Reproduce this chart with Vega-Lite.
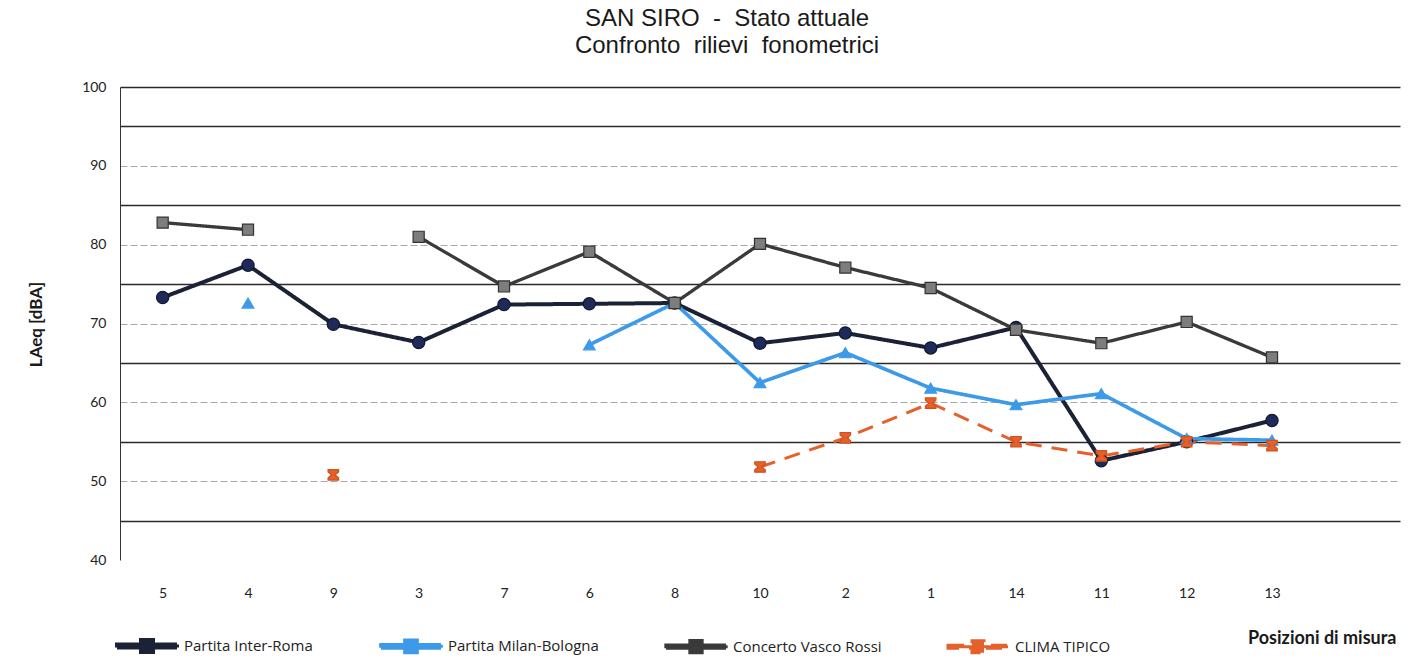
{
  "$schema": "https://vega.github.io/schema/vega-lite/v6.json",
  "width": 1280,
  "height": 473,
  "autosize": {"type": "none"},
  "padding": {"left": 120, "top": 87, "right": 24, "bottom": 102},
  "background": "white",
  "title": {
    "text": ["SAN SIRO\u00a0 - \u00a0Stato attuale", "Confronto\u00a0 rilievi\u00a0 fonometrici"],
    "font": "Liberation Sans",
    "fontSize": 24,
    "fontWeight": "normal",
    "color": "#1a1a1a",
    "lineHeight": 27,
    "anchor": "middle",
    "dx": -33,
    "offset": 22
  },
  "config": {"view": {"stroke": null}},
  "data": {
    "values": [
      {"pos": "5", "serie": "Partita Inter-Roma", "LAeq": 73.3},
      {"pos": "4", "serie": "Partita Inter-Roma", "LAeq": 77.4},
      {"pos": "9", "serie": "Partita Inter-Roma", "LAeq": 69.9},
      {"pos": "3", "serie": "Partita Inter-Roma", "LAeq": 67.6},
      {"pos": "7", "serie": "Partita Inter-Roma", "LAeq": 72.4},
      {"pos": "6", "serie": "Partita Inter-Roma", "LAeq": 72.5},
      {"pos": "8", "serie": "Partita Inter-Roma", "LAeq": 72.6},
      {"pos": "10", "serie": "Partita Inter-Roma", "LAeq": 67.5},
      {"pos": "2", "serie": "Partita Inter-Roma", "LAeq": 68.8},
      {"pos": "1", "serie": "Partita Inter-Roma", "LAeq": 66.9},
      {"pos": "14", "serie": "Partita Inter-Roma", "LAeq": 69.5},
      {"pos": "11", "serie": "Partita Inter-Roma", "LAeq": 52.6},
      {"pos": "12", "serie": "Partita Inter-Roma", "LAeq": 55.0},
      {"pos": "13", "serie": "Partita Inter-Roma", "LAeq": 57.7},

      {"pos": "5", "serie": "Partita Milan-Bologna", "LAeq": null},
      {"pos": "4", "serie": "Partita Milan-Bologna", "LAeq": 72.6},
      {"pos": "9", "serie": "Partita Milan-Bologna", "LAeq": null},
      {"pos": "3", "serie": "Partita Milan-Bologna", "LAeq": null},
      {"pos": "7", "serie": "Partita Milan-Bologna", "LAeq": null},
      {"pos": "6", "serie": "Partita Milan-Bologna", "LAeq": 67.3},
      {"pos": "8", "serie": "Partita Milan-Bologna", "LAeq": 72.6},
      {"pos": "10", "serie": "Partita Milan-Bologna", "LAeq": 62.5},
      {"pos": "2", "serie": "Partita Milan-Bologna", "LAeq": 66.3},
      {"pos": "1", "serie": "Partita Milan-Bologna", "LAeq": 61.8},
      {"pos": "14", "serie": "Partita Milan-Bologna", "LAeq": 59.7},
      {"pos": "11", "serie": "Partita Milan-Bologna", "LAeq": 61.1},
      {"pos": "12", "serie": "Partita Milan-Bologna", "LAeq": 55.4},
      {"pos": "13", "serie": "Partita Milan-Bologna", "LAeq": 55.2},

      {"pos": "5", "serie": "Concerto Vasco Rossi", "LAeq": 82.8},
      {"pos": "4", "serie": "Concerto Vasco Rossi", "LAeq": 81.9},
      {"pos": "9", "serie": "Concerto Vasco Rossi", "LAeq": null},
      {"pos": "3", "serie": "Concerto Vasco Rossi", "LAeq": 81.0},
      {"pos": "7", "serie": "Concerto Vasco Rossi", "LAeq": 74.7},
      {"pos": "6", "serie": "Concerto Vasco Rossi", "LAeq": 79.1},
      {"pos": "8", "serie": "Concerto Vasco Rossi", "LAeq": 72.6},
      {"pos": "10", "serie": "Concerto Vasco Rossi", "LAeq": 80.1},
      {"pos": "2", "serie": "Concerto Vasco Rossi", "LAeq": 77.1},
      {"pos": "1", "serie": "Concerto Vasco Rossi", "LAeq": 74.5},
      {"pos": "14", "serie": "Concerto Vasco Rossi", "LAeq": 69.2},
      {"pos": "11", "serie": "Concerto Vasco Rossi", "LAeq": 67.5},
      {"pos": "12", "serie": "Concerto Vasco Rossi", "LAeq": 70.2},
      {"pos": "13", "serie": "Concerto Vasco Rossi", "LAeq": 65.7},

      {"pos": "5", "serie": "CLIMA TIPICO", "LAeq": null},
      {"pos": "4", "serie": "CLIMA TIPICO", "LAeq": null},
      {"pos": "9", "serie": "CLIMA TIPICO", "LAeq": 50.8},
      {"pos": "3", "serie": "CLIMA TIPICO", "LAeq": null},
      {"pos": "7", "serie": "CLIMA TIPICO", "LAeq": null},
      {"pos": "6", "serie": "CLIMA TIPICO", "LAeq": null},
      {"pos": "8", "serie": "CLIMA TIPICO", "LAeq": null},
      {"pos": "10", "serie": "CLIMA TIPICO", "LAeq": 51.8},
      {"pos": "2", "serie": "CLIMA TIPICO", "LAeq": 55.5},
      {"pos": "1", "serie": "CLIMA TIPICO", "LAeq": 59.9},
      {"pos": "14", "serie": "CLIMA TIPICO", "LAeq": 55.0},
      {"pos": "11", "serie": "CLIMA TIPICO", "LAeq": 53.2},
      {"pos": "12", "serie": "CLIMA TIPICO", "LAeq": 55.0},
      {"pos": "13", "serie": "CLIMA TIPICO", "LAeq": 54.5}
    ]
  },
  "encoding": {
    "x": {
      "field": "pos",
      "type": "ordinal",
      "sort": ["5", "4", "9", "3", "7", "6", "8", "10", "2", "1", "14", "11", "12", "13"],
      "scale": {
        "type": "point",
        "domain": ["5", "4", "9", "3", "7", "6", "8", "10", "2", "1", "14", "11", "12", "13", ""],
        "padding": 0.5
      },
      "axis": {
        "labelAngle": 0,
        "ticks": false,
        "domain": false,
        "grid": false,
        "labelPadding": 26,
        "labelFont": "Lato",
        "labelFontSize": 14,
        "labelColor": "#222222",
        "title": "Posizioni di misura",
        "titleFont": "Lato",
        "titleFontSize": 18,
        "titleFontWeight": "bold",
        "titleColor": "#1a1a1a",
        "titleAnchor": "end",
        "titleAlign": "right",
        "titleBaseline": "middle",
        "titleX": 1276,
        "titleY": 78
      }
    },
    "y": {
      "field": "LAeq",
      "type": "quantitative",
      "scale": {"domain": [40, 100], "nice": false, "zero": false},
      "axis": {
        "values": [40, 45, 50, 55, 60, 65, 70, 75, 80, 85, 90, 95, 100],
        "labelExpr": "datum.value % 10 === 0 ? datum.label : ''",
        "ticks": false,
        "domain": true,
        "domainColor": "#333333",
        "domainWidth": 1,
        "grid": true,
        "gridColor": {"condition": {"test": "datum.value % 10 !== 0 || datum.value === 100", "value": "#2a2a2a"}, "value": "#a8a8a8"},
        "gridDash": {"condition": {"test": "datum.value % 10 !== 0 || datum.value === 100", "value": []}, "value": [7, 3]},
        "gridWidth": {"condition": {"test": "datum.value % 10 !== 0 || datum.value === 100", "value": 1.4}, "value": 1},
        "gridOpacity": {"condition": {"test": "datum.value === 40", "value": 0}, "value": 1},
        "labelFont": "Lato",
        "labelFontSize": 14,
        "labelColor": "#222222",
        "labelPadding": 14,
        "title": "LAeq [dBA]",
        "titleFont": "Lato",
        "titleFontSize": 17,
        "titleFontWeight": "bold",
        "titleColor": "#1a1a1a",
        "titleAngle": -90,
        "titleAlign": "center",
        "titleBaseline": "middle",
        "titleX": -84,
        "titleY": 237
      }
    }
  },
  "layer": [
    {
      "mark": {"type": "line", "invalid": "break-paths-filter-domains"},
      "encoding": {
        "color": {
          "field": "serie",
          "type": "nominal",
          "scale": {
            "domain": ["Partita Inter-Roma", "Partita Milan-Bologna", "Concerto Vasco Rossi", "CLIMA TIPICO"],
            "range": ["#1c2236", "#3d9ae8", "#3a3a3a", "#e5602a"]
          },
          "legend": {
            "title": null,
            "orient": "none",
            "legendX": -5,
            "legendY": 547,
            "direction": "horizontal",
            "columns": 4,
            "columnPadding": 60,
            "symbolType": "M-1,-0.15 L1.4,-0.15 L1.4,-0.6 L2.6,-0.6 L2.6,-0.15 L5,-0.15 L5,0.15 L2.6,0.15 L2.6,0.6 L1.4,0.6 L1.4,0.15 L-1,0.15 Z",
            "symbolSize": 400,
            "symbolStrokeWidth": 0,
            "labelOffset": 45,
            "labelFont": "Open Sans",
            "labelFontSize": 15,
            "labelColor": "#222222",
            "labelLimit": 300,
            "encode": {
              "symbols": {
                "update": {
                  "fill": {"scale": "color", "field": "value"},
                  "fillOpacity": {"value": 1},
                  "strokeWidth": {"value": 0}
                }
              }
            }
          }
        },
        "strokeWidth": {
          "field": "serie",
          "type": "nominal",
          "scale": {
            "domain": ["Partita Inter-Roma", "Partita Milan-Bologna", "Concerto Vasco Rossi", "CLIMA TIPICO"],
            "range": [4, 3, 4, 3]
          },
          "legend": null
        },
        "strokeDash": {
          "field": "serie",
          "type": "nominal",
          "scale": {
            "domain": ["Partita Inter-Roma", "Partita Milan-Bologna", "Concerto Vasco Rossi", "CLIMA TIPICO"],
            "range": [[1, 0], [1, 0], [1, 0], [16, 10]]
          },
          "legend": null
        }
      }
    },
    {
      "mark": {"type": "point", "filled": true, "opacity": 1, "strokeWidth": 1.2},
      "encoding": {
        "shape": {
          "field": "serie",
          "type": "nominal",
          "scale": {
            "domain": ["Partita Inter-Roma", "Partita Milan-Bologna", "Concerto Vasco Rossi", "CLIMA TIPICO"],
            "range": ["circle", "triangle-up", "square", "M-1,-1 L1,-1 L1,-0.55 L0.35,0 L1,0.55 L1,1 L-1,1 L-1,0.55 L-0.35,0 L-1,-0.55 Z"]
          },
          "legend": null
        },
        "fill": {
          "field": "serie",
          "type": "nominal",
          "scale": {
            "domain": ["Partita Inter-Roma", "Partita Milan-Bologna", "Concerto Vasco Rossi", "CLIMA TIPICO"],
            "range": ["#1d2a5a", "#3d9ae8", "#7d7d7d", "#e5602a"]
          },
          "legend": null
        },
        "stroke": {
          "field": "serie",
          "type": "nominal",
          "scale": {
            "domain": ["Partita Inter-Roma", "Partita Milan-Bologna", "Concerto Vasco Rossi", "CLIMA TIPICO"],
            "range": ["#101830", "#3d9ae8", "#333333", "#d0501f"]
          },
          "legend": null
        },
        "size": {
          "field": "serie",
          "type": "nominal",
          "scale": {
            "domain": ["Partita Inter-Roma", "Partita Milan-Bologna", "Concerto Vasco Rossi", "CLIMA TIPICO"],
            "range": [150, 110, 200, 190]
          },
          "legend": null
        }
      }
    }
  ],
  "resolve": {
    "legend": {
      "color": "independent",
      "shape": "independent",
      "fill": "independent",
      "stroke": "independent",
      "size": "independent",
      "strokeWidth": "independent",
      "strokeDash": "independent"
    }
  }
}
